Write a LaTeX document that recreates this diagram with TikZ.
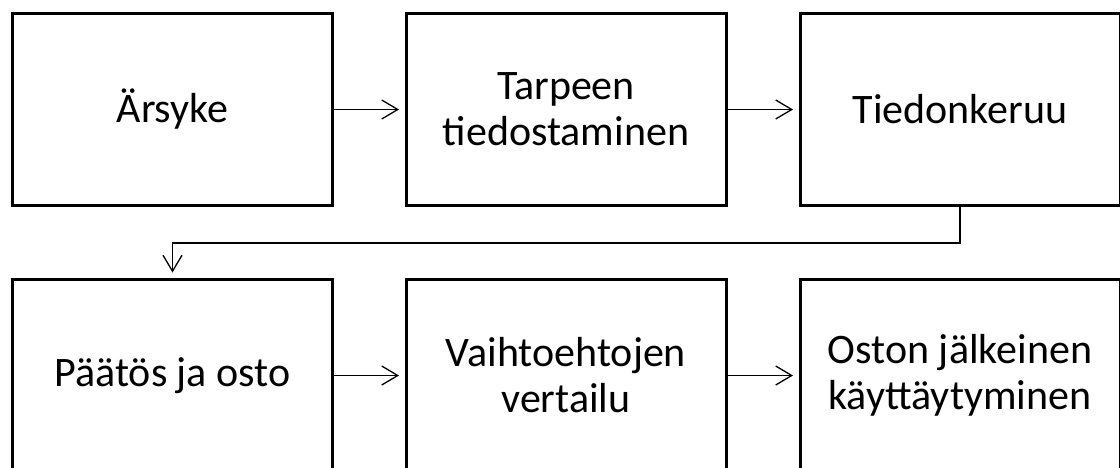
\documentclass[tikz,border=0pt]{standalone}
\usepackage{fontspec}
\setmainfont{Carlito}
\usetikzlibrary{arrows.meta}
\begin{document}
\begin{tikzpicture}[x=1pt,y=1pt,
  stage/.style={draw=black, fill=white, line width=3pt, rectangle,
    minimum width=320pt, minimum height=192pt, inner sep=0pt, outer sep=0pt,
    align=center, font=\fontsize{42pt}{46pt}\selectfont},
  flow/.style={line width=1.3pt,
    -{Straight Barb[length=16pt,width=19pt,line width=1.3pt]},
    shorten >=7pt}]
  \useasboundingbox (0,0) rectangle (1120,-467);
  \clip (0,0) rectangle (1120,-467);
  % upper row
  \node[stage] (s1) at (172.5,-109.5) {Ärsyke};
  \node[stage] (s2) at (566,-109.5) {Tarpeen\\tiedostaminen};
  \node[stage] (s3) at (960,-109.5) {Tiedonkeruu};
  % lower row
  \node[stage] (s4) at (172.5,-375.5) {Päätös ja osto};
  \node[stage] (s5) at (566,-375.5) {Vaihtoehtojen\\vertailu};
  \node[stage] (s6) at (960,-375.5) {Oston jälkeinen\\käyttäytyminen};
  % connectors
  \draw[flow] (s1.east) -- (s2.west);
  \draw[flow] (s2.east) -- (s3.west);
  \draw[flow] (s3.south) -- ++(0,-37.5) -| (s4.north);
  \draw[flow] (s4.east) -- (s5.west);
  \draw[flow] (s5.east) -- (s6.west);
\end{tikzpicture}
\end{document}
